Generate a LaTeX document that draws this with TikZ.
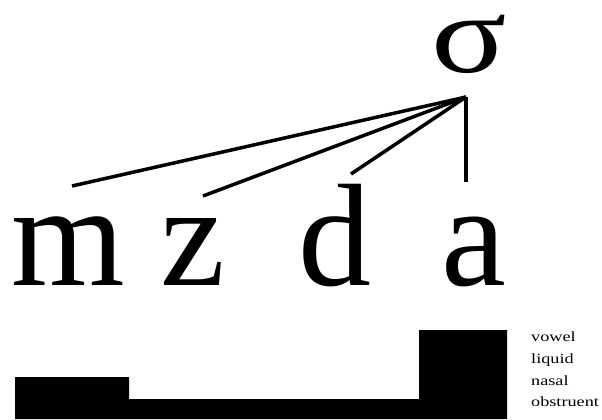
\documentclass[tikz,border=0pt]{standalone}
\usepackage{fontspec}
\setmainfont{Liberation Serif}
\begin{document}
\begin{tikzpicture}[x=1pt,y=-1pt,
  seg/.style={inner sep=0pt,anchor=base,font=\fontsize{146}{150}\selectfont},
  tie/.style={line width=3.5pt},
  lab/.style={inner sep=0pt,anchor=base west,font=\fontsize{14}{16}\selectfont}]
\useasboundingbox (0,0) rectangle (602,420);
\node[inner sep=0pt,anchor=base,font=\fontsize{112}{115}\selectfont] (sigma) at (469,73) {\smash{\scalebox{1.25}[1]{σ}}};
\node[seg] (m) at (68,285) {m};
\node[seg] (z) at (193,285) {z};
\node[seg] (d) at (335,285) {d};
\node[seg] (a) at (474,285) {a};
\coordinate (apex) at (466,97);
\coordinate (em) at (72,186);
\coordinate (ez) at (203,196);
\coordinate (ed) at (351,174);
\coordinate (ea) at (466,182);
\draw[tie] (apex) -- (em);
\draw[tie] (apex) -- (ez);
\draw[tie] (apex) -- (ed);
\draw[tie] (apex) -- (ea);
\fill[black] (15,377) -- (129,377) -- (129,399) -- (419,399) -- (419,330) -- (507,330) -- (507,419) -- (15,419) -- cycle;
\node[lab] (vowel) at (531,341) {\scalebox{1.3}[1]{vowel}};
\node[lab] (liquid) at (531,363) {\scalebox{1.3}[1]{liquid}};
\node[lab] (nasal) at (531,385) {\scalebox{1.3}[1]{nasal}};
\node[lab] (obstruent) at (531,406) {\scalebox{1.3}[1]{obstruent}};
\end{tikzpicture}
\end{document}
